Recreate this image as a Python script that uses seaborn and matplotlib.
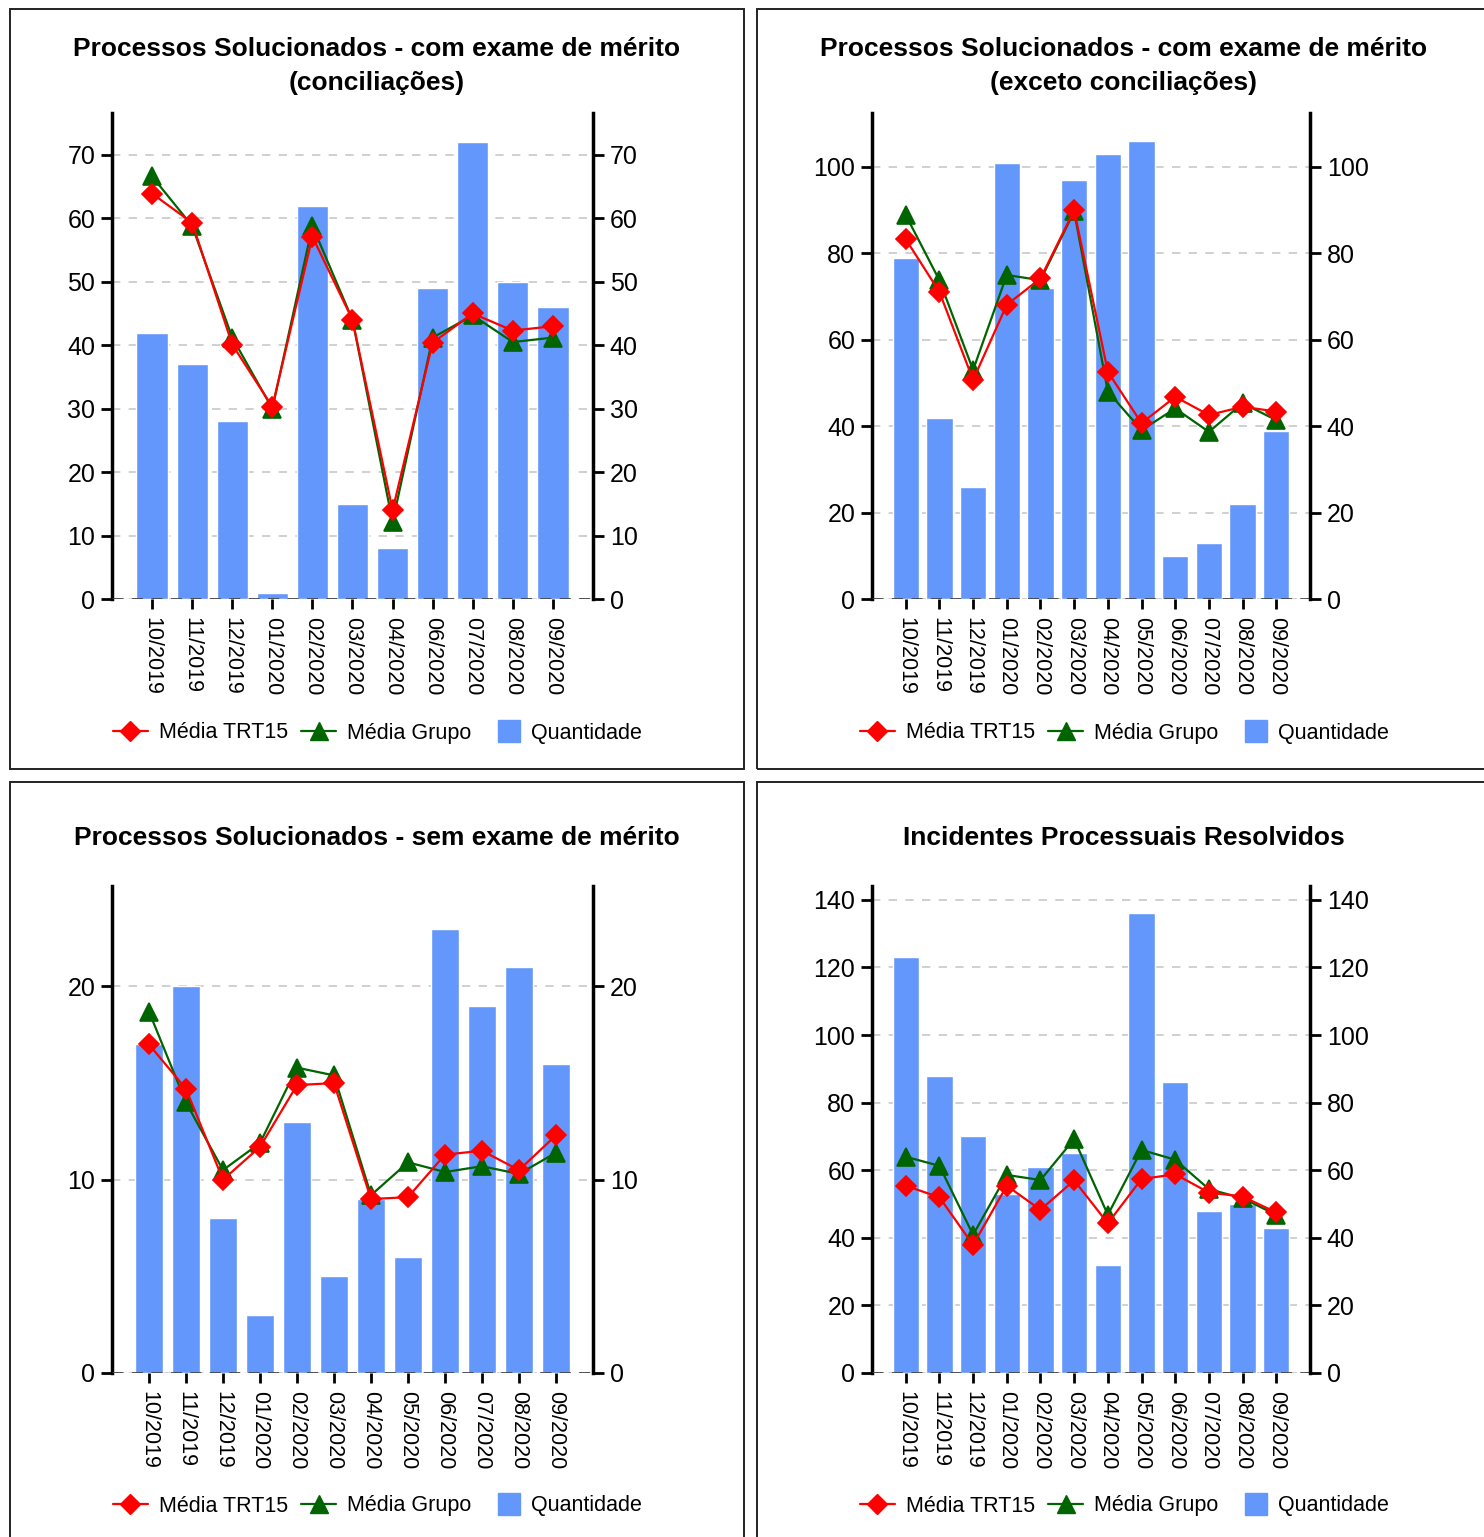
import numpy as np
import pandas as pd
import matplotlib
matplotlib.use("Agg")
import matplotlib.pyplot as plt
from matplotlib.lines import Line2D
from matplotlib.patches import Rectangle, Patch
from matplotlib.legend_handler import HandlerPatch
import seaborn as sns

# --- dados ---
meses_11 = ["10/2019", "11/2019", "12/2019", "01/2020", "02/2020", "03/2020",
            "04/2020", "06/2020", "07/2020", "08/2020", "09/2020"]
meses_12 = ["10/2019", "11/2019", "12/2019", "01/2020", "02/2020", "03/2020",
            "04/2020", "05/2020", "06/2020", "07/2020", "08/2020", "09/2020"]

# com exame de mérito (conciliações)
conc_qtd = [42, 37, 28, 1, 62, 15, 8, 49, 72, 50, 46]
conc_trt = [63.9, 59.3, 40.1, 30.3, 57.1, 44.0, 14.0, 40.4, 45.0, 42.3, 43.0]
conc_grupo = [66.6, 58.8, 41.2, 30.0, 58.8, 44.0, 12.1, 41.2, 44.7, 40.5, 41.2]

# com exame de mérito (exceto conciliações)
exc_qtd = [79, 42, 26, 101, 72, 97, 103, 106, 10, 13, 22, 39]
exc_trt = [83.3, 71.1, 50.7, 68.1, 74.2, 90.0, 52.6, 40.7, 46.8, 42.6, 44.5, 43.4]
exc_grupo = [88.9, 73.8, 53.0, 75.0, 73.8, 89.7, 48.0, 39.1, 44.1, 38.7, 45.3, 41.4]

# sem exame de mérito
sem_qtd = [17, 20, 8, 3, 13, 5, 9, 6, 23, 19, 21, 16]
sem_trt = [17.0, 14.7, 10.0, 11.7, 14.9, 15.0, 9.0, 9.1, 11.3, 11.5, 10.5, 12.3]
sem_grupo = [18.7, 14.0, 10.5, 11.9, 15.8, 15.4, 9.2, 10.9, 10.4, 10.7, 10.3, 11.4]

# incidentes processuais resolvidos
inc_qtd = [123, 88, 70, 53, 61, 65, 32, 136, 86, 48, 50, 43]
inc_trt = [55.4, 52.0, 37.9, 55.4, 48.3, 57.0, 44.3, 57.4, 58.8, 53.4, 52.2, 47.5]
inc_grupo = [64.0, 61.3, 40.9, 58.6, 57.1, 69.2, 46.8, 66.0, 63.1, 54.4, 51.7, 46.8]

AZUL = "#6497FB"
VERDE = "#006400"
VERMELHO = "#FF0000"

W, H = 1484, 1537

sns.set_style("white")
plt.rcParams["font.family"] = ["Liberation Sans", "DejaVu Sans"]
plt.rcParams["text.color"] = "black"


def caixa_px(x0, y0, x1, y1):
    # converte caixa em pixels (origem no topo) para coordenadas da figura
    return [x0 / W, 1 - y1 / H, (x1 - x0) / W, (y1 - y0) / H]


def desenhar(fig, caixa, meses, qtd, trt, grupo, ymax, passo):
    ax = fig.add_axes(caixa_px(*caixa))
    df = pd.DataFrame({"mes": meses, "qtd": qtd, "trt": trt, "grupo": grupo})

    sns.barplot(data=df, x="mes", y="qtd", color=AZUL, saturation=1,
                width=0.78, errorbar=None, ax=ax, zorder=2)
    sns.pointplot(data=df, x="mes", y="grupo", color=VERDE, markers="^",
                  markersize=13, linewidth=1.6, errorbar=None, ax=ax, zorder=4)
    sns.pointplot(data=df, x="mes", y="trt", color=VERMELHO, markers="D",
                  markersize=10, linewidth=1.6, errorbar=None, ax=ax, zorder=5)

    ticks = np.arange(0, ymax + 0.01, passo)
    ax.set_xlim(-1, len(meses))
    ax.set_ylim(0, ymax)
    ax.set_yticks(ticks)
    ax.set_xlabel("")
    ax.set_ylabel("")
    ax.set_axisbelow(True)
    ax.grid(axis="y", ls=(0, (5, 5)), color="#c8c8c8", lw=1.2)
    ax.grid(axis="x", visible=False)
    ax.axhline(0, color="#444444", lw=2, ls=(0, (4, 3)), zorder=3)

    for lado in ["top", "right", "bottom"]:
        ax.spines[lado].set_visible(False)
    ax.spines["left"].set_linewidth(2.5)
    ax.spines["left"].set_color("black")

    ax.tick_params(axis="y", direction="out", length=8, width=2, pad=4,
                   labelsize=18, colors="black", left=True)
    ax.tick_params(axis="x", direction="out", length=7, width=2,
                   labelsize=15.5, colors="black", labelrotation=270,
                   bottom=True, pad=6)

    ax2 = ax.twinx()
    ax2.set_ylim(ax.get_ylim())
    ax2.set_yticks(ticks)
    for lado in ["top", "left", "bottom"]:
        ax2.spines[lado].set_visible(False)
    ax2.spines["right"].set_linewidth(2.5)
    ax2.spines["right"].set_color("black")
    ax2.tick_params(axis="y", direction="out", length=8, width=2, pad=4,
                    labelsize=18, colors="black", right=True)
    ax2.grid(False)
    return ax


def quadrado(legend, orig_handle, xdescent, ydescent, width, height, fontsize):
    # quadrado de ~22 px encostado no texto
    lado = 15.8
    return Rectangle((-xdescent + width - lado, -ydescent + height / 2 - lado / 2),
                     lado, lado)


fig = plt.figure(figsize=(W / 100, H / 100), dpi=100)

# molduras dos quatro painéis
for x0, y0, x1, y1 in [(10, 9, 744, 769), (757, 9, 1492, 769),
                       (10, 782, 744, 1546), (757, 782, 1492, 1546)]:
    fig.add_artist(Rectangle((x0 / W, 1 - y1 / H), (x1 - x0) / W, (y1 - y0) / H,
                             transform=fig.transFigure, fill=False,
                             lw=1.4, ec="#222222"))

desenhar(fig, (112, 113, 593, 599), meses_11, conc_qtd, conc_trt, conc_grupo, 76.6, 10)
desenhar(fig, (872, 113, 1310, 599), meses_12, exc_qtd, exc_trt, exc_grupo, 112.5, 20)
desenhar(fig, (112, 886, 593, 1373), meses_12, sem_qtd, sem_trt, sem_grupo, 25.2, 10)
desenhar(fig, (872, 886, 1310, 1373), meses_12, inc_qtd, inc_trt, inc_grupo, 144.1, 20)

titulos = [
    (377, 66, "Processos Solucionados - com exame de mérito\n(conciliações)"),
    (1124, 66, "Processos Solucionados - com exame de mérito\n(exceto conciliações)"),
    (377, 838, "Processos Solucionados - sem exame de mérito"),
    (1124, 838, "Incidentes Processuais Resolvidos"),
]
for x, y, txt in titulos:
    fig.text(x / W, 1 - y / H, txt, ha="center", va="center", color="black",
             fontsize=19, fontweight="bold", linespacing=1.55)

handles = [
    Line2D([], [], color=VERMELHO, marker="D", ms=10, lw=1.6),
    Line2D([], [], color=VERDE, marker="^", ms=13, lw=1.6),
    Patch(color=AZUL),
]
rotulos = ["Média TRT15", "Média Grupo", "Quantidade"]
for x, y in [(377, 733), (1124, 733), (377, 1506), (1124, 1506)]:
    fig.legend(handles, rotulos, loc="center", bbox_to_anchor=(x / W, 1 - y / H),
               ncol=3, frameon=False, fontsize=15.5, handlelength=1.65,
               handletextpad=0.5, columnspacing=0.6,
               handler_map={Patch: HandlerPatch(patch_func=quadrado)})

fig.savefig("out.png", dpi=100)
